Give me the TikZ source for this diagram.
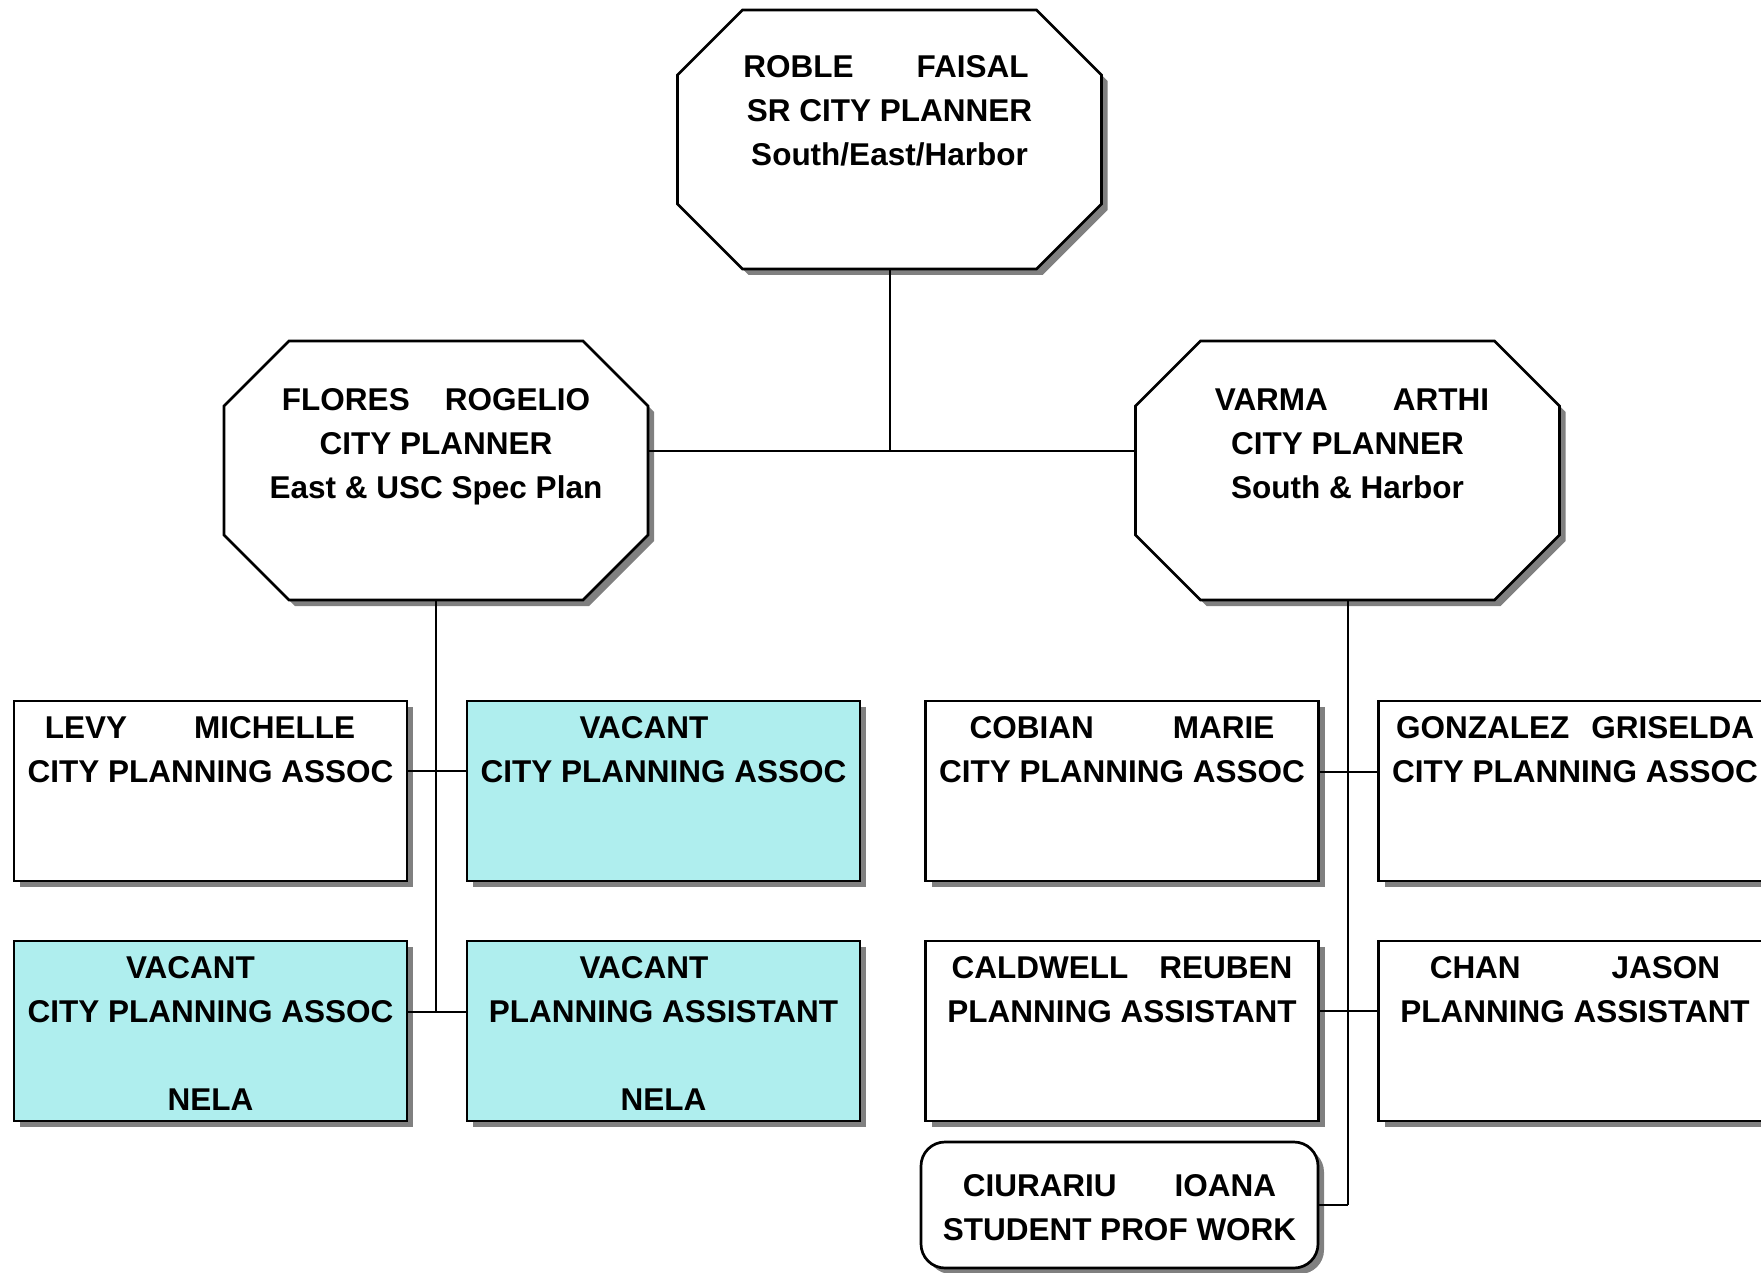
\documentclass[tikz,border=0pt]{standalone}
\usepackage{fontspec}
\setmainfont{Liberation Sans}
\usetikzlibrary{shadows}
\definecolor{vacantfill}{RGB}{175,238,238}
\pgfdeclarelayer{back}
\pgfsetlayers{back,main}
\newcommand\boxlines[2]{\makebox[0pt]{\raisebox{#1}[0pt][0pt]{\begin{tabular}[t]{@{}c@{}}#2\end{tabular}}}}
\tikzset{
  chart/.style={x=0.5pt, y=-0.5pt},
  boxshadow/.style={drop shadow={shadow xshift=3pt, shadow yshift=-3pt, fill=gray, opacity=1}},
  orgbox/.style={draw, fill=white, line width=1.35pt, inner sep=0pt,
    font=\fontsize{15.75pt}{22pt}\selectfont\bfseries, boxshadow},
  headbox/.style={rectangle, inner sep=0pt, minimum width=212pt, minimum height=129.5pt,
    font=\fontsize{15.75pt}{22pt}\selectfont\bfseries},
  postbox/.style={orgbox, rectangle, minimum width=196.5pt, minimum height=90pt},
  vacantbox/.style={postbox, fill=vacantfill},
  studentbox/.style={orgbox, rectangle, rounded corners=12pt, minimum width=198.5pt, minimum height=63pt},
  link/.style={line width=1pt},
  headframe/.pic={
    \draw[fill=white, line width=1.35pt, boxshadow]
      (-147,-129.5) -- (147,-129.5) -- (212,-64.5) -- (212,64.5) -- (147,129.5)
      -- (-147,129.5) -- (-212,64.5) -- (-212,-64.5) -- cycle;
  }
}
\begin{document}
\begin{tikzpicture}[chart]
\useasboundingbox (0,0) rectangle (1761,1273);
% planners
\node[headbox] (roble) at (889.5,139.5) {\boxlines{30.75pt}{ROBLE\hspace{31.5pt}FAISAL\hspace*{3.5pt}\\SR CITY PLANNER\\South/East/Harbor}};
\node[headbox] (flores) at (436,470.5) {\boxlines{30.25pt}{FLORES\hspace{17.5pt}ROGELIO\\CITY PLANNER\\East \& USC Spec Plan}};
\node[headbox] (varma) at (1347.5,470.5) {\boxlines{30.25pt}{\hspace*{4.5pt}VARMA\hspace{32.5pt}ARTHI\\CITY PLANNER\\South \& Harbor}};
\begin{pgfonlayer}{back}
  \pic at (roble) {headframe};
  \pic at (flores) {headframe};
  \pic at (varma) {headframe};
\end{pgfonlayer}
% east side
\node[postbox] (levy) at (210.5,791) {\boxlines{26.5pt}{LEVY\hspace{33.5pt}MICHELLE\hspace*{10.5pt}\\CITY PLANNING ASSOC}};
\node[vacantbox] (vacA) at (663.5,791) {\boxlines{26.5pt}{VACANT\hspace*{19.5pt}\\CITY PLANNING ASSOC}};
\node[vacantbox] (vacB) at (210.5,1031) {\boxlines{26.5pt}{VACANT\hspace*{20pt}\\CITY PLANNING ASSOC\\ \\NELA}};
\node[vacantbox] (vacC) at (663.5,1031) {\boxlines{26.5pt}{VACANT\hspace*{19.5pt}\\PLANNING ASSISTANT\\ \\NELA}};
% south and harbor
\node[postbox] (cobian) at (1122,791) {\boxlines{26.5pt}{COBIAN\hspace{39.5pt}MARIE\\CITY PLANNING ASSOC}};
\node[postbox] (gonzalez) at (1575,791) {\boxlines{26.5pt}{GONZALEZ\hspace{11pt}GRISELDA\\CITY PLANNING ASSOC}};
\node[postbox] (caldwell) at (1122,1031) {\boxlines{26.5pt}{CALDWELL\hspace{15.5pt}REUBEN\\PLANNING ASSISTANT}};
\node[postbox] (chan) at (1575,1031) {\boxlines{26.5pt}{CHAN\hspace{45.5pt}JASON\\PLANNING ASSISTANT}};
\node[studentbox] (ciurariu) at (1119.5,1205) {\boxlines{4.5pt}{CIURARIU\hspace{29pt}IOANA\\STUDENT PROF WORK}};
% lines
\coordinate (hub) at (890,451);
\coordinate (lrowA) at (437,771);
\coordinate (lrowB) at (437,1012);
\coordinate (rrowA) at (1349,772);
\coordinate (rrowB) at (1349,1011);
\draw[link] (roble.south) -- (roble.south |- hub);
\draw[link] (flores.east |- hub) -- (varma.west |- hub);
\draw[link] (flores.south) -- (flores.south |- lrowB);
\draw[link] (levy.east |- lrowA) -- (vacA.west |- lrowA);
\draw[link] (vacB.east |- lrowB) -- (vacC.west |- lrowB);
\draw[link] (varma.south) -- (varma.south |- ciurariu.east);
\draw[link] (cobian.east |- rrowA) -- (gonzalez.west |- rrowA);
\draw[link] (caldwell.east |- rrowB) -- (chan.west |- rrowB);
\draw[link] (ciurariu.east) -- (varma.south |- ciurariu.east);
\end{tikzpicture}
\end{document}
